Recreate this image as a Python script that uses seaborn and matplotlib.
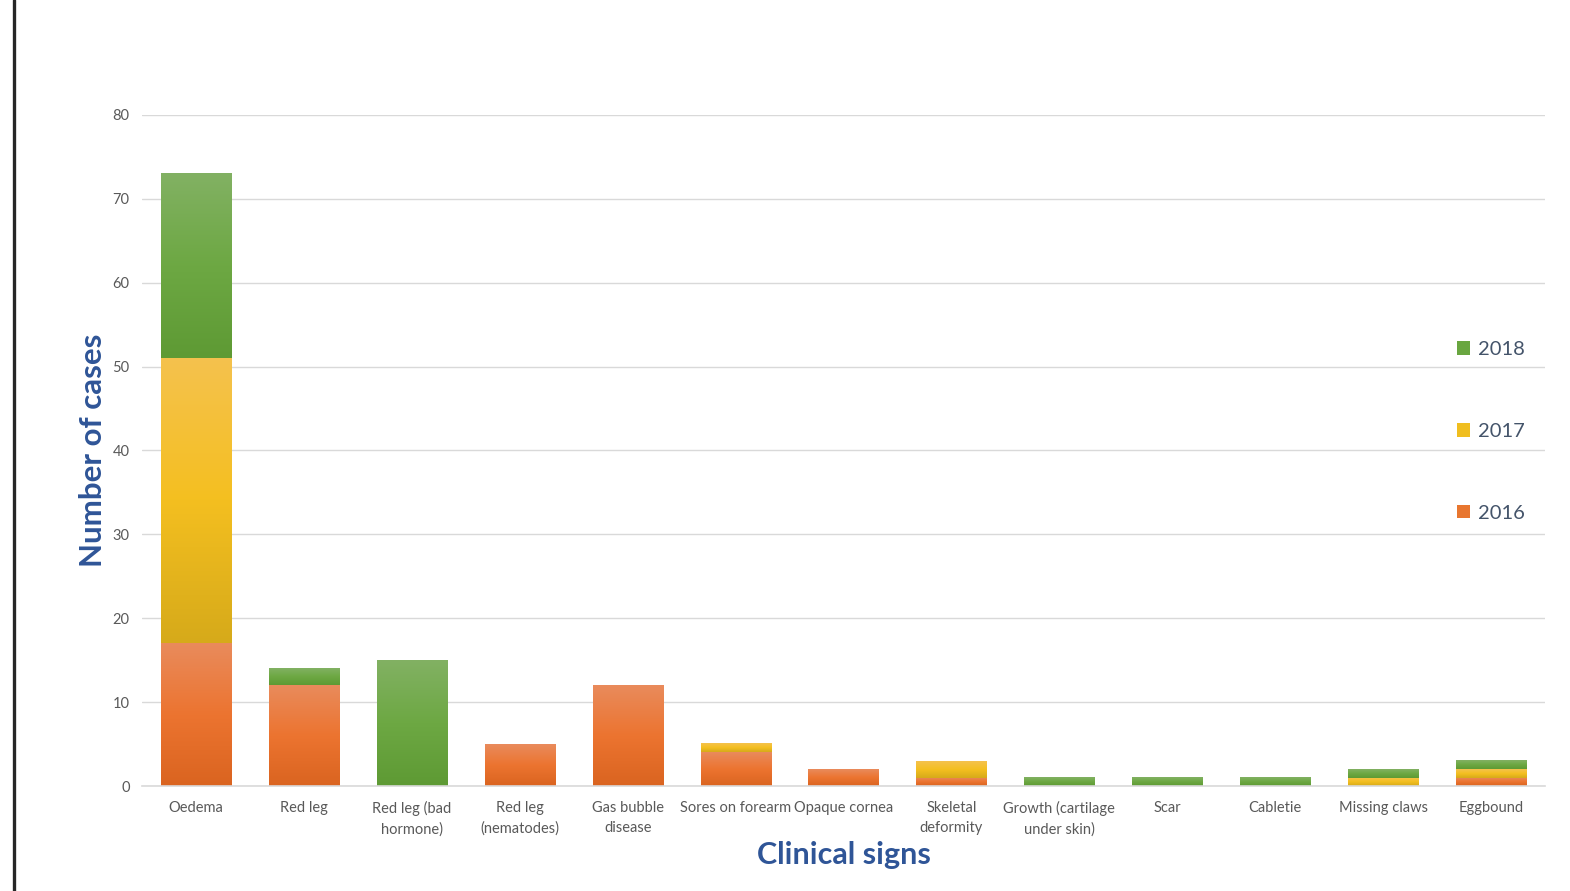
import matplotlib
matplotlib.use("Agg")
import matplotlib.pyplot as plt
import seaborn as sns
import numpy as np
import pandas as pd
from matplotlib.patches import Patch
from matplotlib.lines import Line2D
from matplotlib.colors import LinearSegmentedColormap

categories = ["Oedema", "Red leg", "Red leg (bad\nhormone)", "Red leg\n(nematodes)",
              "Gas bubble\ndisease", "Sores on forearm", "Opaque cornea", "Skeletal\ndeformity",
              "Growth (cartilage\nunder skin)", "Scar", "Cabletie", "Missing claws", "Eggbound"]
y2016 = [17, 12, 0, 5, 12, 4, 2, 1, 0, 0, 0, 0, 1]
y2017 = [34, 0, 0, 0, 0, 1, 0, 2, 0, 0, 0, 1, 1]
y2018 = [22, 2, 15, 0, 0, 0, 0, 0, 1, 1, 1, 1, 1]
years = ["2016", "2017", "2018"]
yticks = [0, 10, 20, 30, 40, 50, 60, 70, 80]

colors = {"2016": "#E8762F", "2017": "#F0BE1F", "2018": "#69A640"}
# gradient stops (bottom, middle, top)
grads = {"2016": ["#DA6420", "#EC7430", "#E98B5C"],
         "2017": ["#D6AA1A", "#F4BF20", "#F5C24E"],
         "2018": ["#5E9A34", "#6DA843", "#82B163"]}

df = pd.DataFrame({"sign": categories, "2016": y2016, "2017": y2017, "2018": y2018})
bottoms = {"2016": np.zeros(len(categories)),
           "2017": np.array(y2016, dtype=float),
           "2018": np.array(y2016, dtype=float) + np.array(y2017, dtype=float)}

sns.set_theme(style="white")
plt.rcParams["font.family"] = ["Lato", "DejaVu Sans"]

fig = plt.figure(figsize=(15.7, 8.91), dpi=100)
ax = fig.add_axes([142/1570, 1 - 786/891, (1545-142)/1570, (786-115)/891])

year_patches = {}
for yr in years:
    n0 = len(ax.patches)
    sns.barplot(data=df, x="sign", y=yr, color=colors[yr], saturation=1,
                width=0.65, ax=ax, linewidth=0, order=categories,
                bottom=bottoms[yr], errorbar=None)
    year_patches[yr] = ax.patches[n0:]

ax.set_ylim(0, 80)
ax.set_xlim(-0.5, len(categories) - 0.5)

grad = np.linspace(0, 1, 256).reshape(-1, 1)
for yr in years:
    cmap = LinearSegmentedColormap.from_list("g" + yr, grads[yr])
    for p in year_patches[yr]:
        h = p.get_height()
        if h <= 0:
            continue
        x0 = p.get_x(); w = p.get_width(); b = p.get_y()
        ax.imshow(grad, cmap=cmap, extent=[x0, x0 + w, b, b + h], origin="lower",
                  aspect="auto", zorder=2, interpolation="bilinear")
        p.set_facecolor("none")

ax.set_ylim(0, 80)
ax.set_xlim(-0.5, len(categories) - 0.5)
ax.set_yticks(yticks)
ax.set_yticklabels([str(t) for t in yticks])
ax.yaxis.grid(True, color="#D9D9D9", linewidth=1)
ax.set_axisbelow(True)
for s in ["top", "right", "left"]:
    ax.spines[s].set_visible(False)
ax.spines["bottom"].set_color("#D9D9D9")
ax.spines["bottom"].set_linewidth(1.2)
ax.spines["bottom"].set_zorder(3)
ax.tick_params(axis="both", length=0, colors="#595959", labelsize=10.5)
ax.tick_params(axis="y", pad=9)
ax.tick_params(axis="x", pad=11)
for lab in ax.get_xticklabels():
    lab.set_linespacing(1.5)

ax.set_xlabel("Clinical signs", fontsize=22, fontweight="bold", color="#2F5597", labelpad=3)
ax.set_ylabel("Number of cases", fontsize=22.5, fontweight="bold", color="#2F5597", labelpad=4)

handles = [Patch(facecolor=colors[y], edgecolor="none") for y in ["2018", "2017", "2016"]]
leg = ax.legend(handles, ["2018", "2017", "2016"], loc="upper left",
                bbox_to_anchor=((1439 - 142) / (1545 - 142), 1 - (323 - 115) / (786 - 115)),
                frameon=False, fontsize=14.5, labelspacing=3.22, handlelength=0.65,
                handleheight=0.65, handletextpad=0.4, labelcolor="#44546A")

fig.add_artist(Line2D([14/1570, 14/1570], [0, 1], color="#262626", linewidth=2.4))

fig.savefig("out.png", dpi=100, facecolor="white")
